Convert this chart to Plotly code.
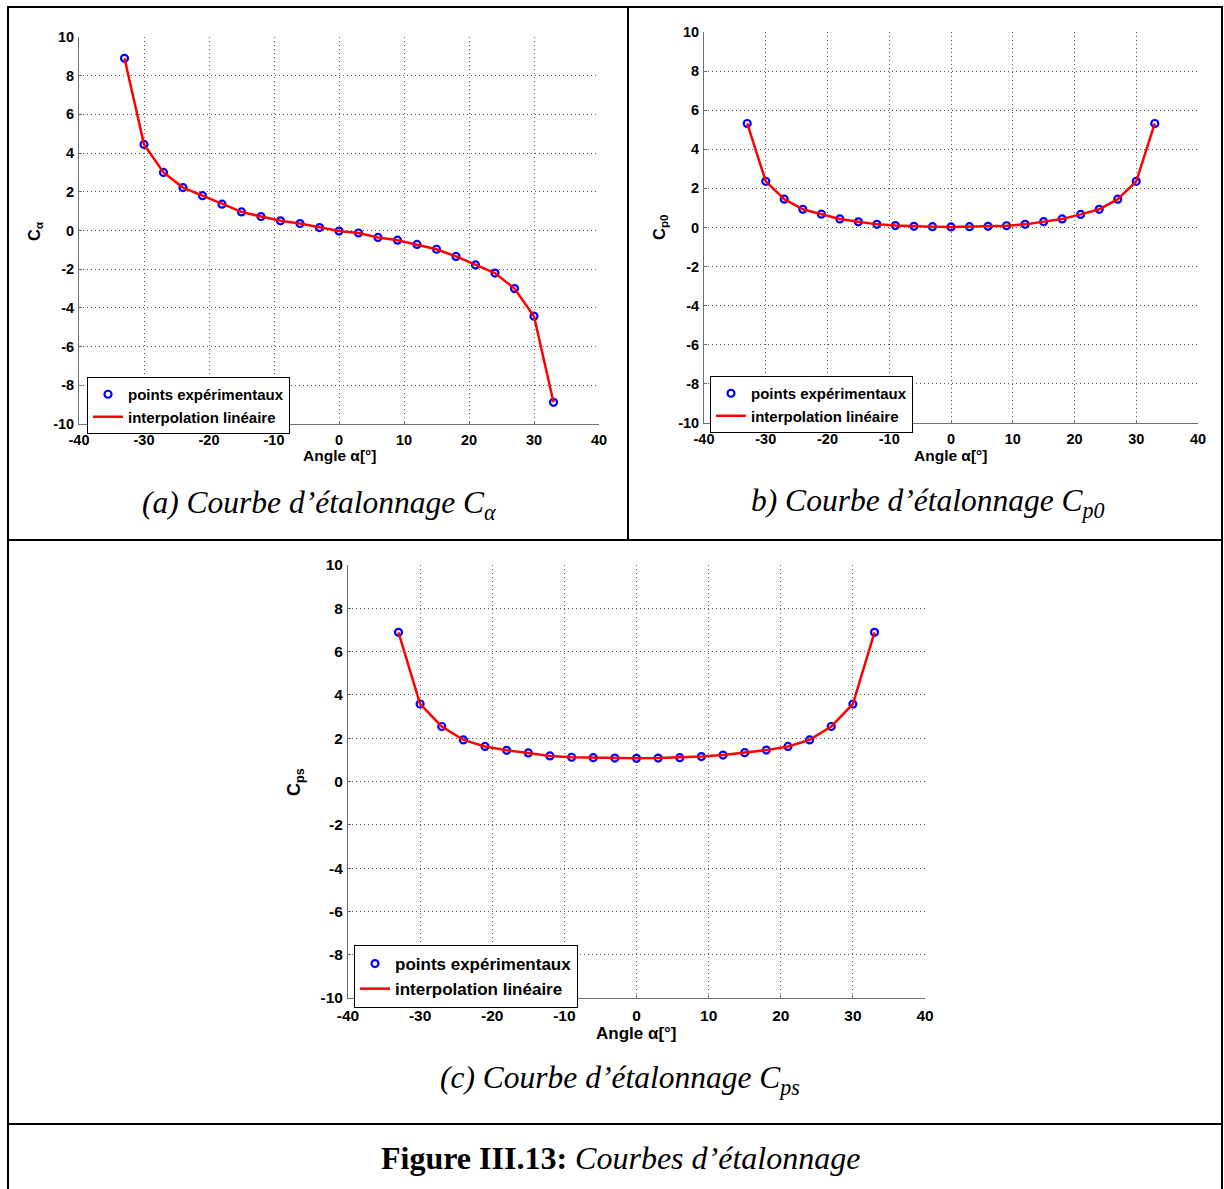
import plotly.graph_objects as go

W, H = 1224, 1189

angles = [-33, -30, -27, -24, -21, -18, -15, -12, -9, -6, -3, 0, 3, 6, 9, 12, 15, 18, 21, 24, 27, 30, 33]
c_alpha = [8.9, 4.45, 3.0, 2.22, 1.8, 1.36, 0.96, 0.72, 0.5, 0.36, 0.15, -0.03, -0.13, -0.36, -0.5,
           -0.72, -0.97, -1.34, -1.78, -2.2, -3.0, -4.43, -8.88]
c_p0 = [5.32, 2.36, 1.45, 0.93, 0.68, 0.44, 0.29, 0.16, 0.1, 0.06, 0.04, 0.03, 0.04, 0.06, 0.09,
        0.16, 0.3, 0.44, 0.67, 0.93, 1.45, 2.36, 5.32]
c_ps = [6.89, 3.58, 2.54, 1.92, 1.62, 1.44, 1.32, 1.18, 1.12, 1.1, 1.08, 1.07, 1.08, 1.1, 1.15,
        1.22, 1.33, 1.45, 1.62, 1.92, 2.54, 3.58, 6.89]

x_ticks = [-40, -30, -20, -10, 0, 10, 20, 30, 40]
x_ticktext = ["-40", "-30", "-20", "-10", "0", "10", "20", "30", "40"]
y_ticks = [-10, -8, -6, -4, -2, 0, 2, 4, 6, 8, 10]
y_ticktext = ["-10", "-8", "-6", "-4", "-2", "0", "2", "4", "6", "8", "10"]

legend_names = ["points expérimentaux", "interpolation linéaire"]
y_titles = ["C<sub>α</sub>", "C<sub>p0</sub>", "C<sub>ps</sub>"]
x_title = "Angle α[°]"
captions = ["<i>(a) Courbe d’étalonnage C<sub>α</sub></i>",
            "<i>b) Courbe d’étalonnage C<sub>p0</sub></i>",
            "<i>(c) Courbe d’étalonnage C<sub>ps</sub></i>"]
fig_caption = "<b>Figure III.13:</b> <i>Courbes d’étalonnage</i>"


def px(x):
    return x / W


def py(y):
    return 1 - y / H


# panel geometry in pixels: (left, right, top, bottom)
panels = [
    dict(box=(79, 599, 37, 424), series=c_alpha, fs=14.5, lfs=15, tfs=15.5,
         legend=(87, 377), ytitle=(35, 232), xtitle=(339, 455), cap=(319, 505)),
    dict(box=(704, 1198, 32, 423), series=c_p0, fs=14.5, lfs=15, tfs=15.5,
         legend=(710, 376), ytitle=(660, 228), xtitle=(950, 455), cap=(928, 503)),
    dict(box=(348, 925, 565, 998), series=c_ps, fs=15.5, lfs=17, tfs=17,
         legend=(354, 945), ytitle=(295, 782), xtitle=(636, 1033), cap=(620, 1080)),
]

fig = go.Figure()
annotations = []
layout_upd = {}

for i, p in enumerate(panels):
    k = "" if i == 0 else str(i + 1)
    xa, ya, lg = "x" + k, "y" + k, "legend" + k
    l, r, t, b = p["box"]
    fig.add_trace(go.Scatter(
        x=angles, y=p["series"], mode="markers", name=legend_names[0],
        marker=dict(symbol="circle-open", size=7, color="#0000ff", line=dict(width=2.2, color="#0000ff")),
        xaxis=xa, yaxis=ya, legend=lg))
    fig.add_trace(go.Scatter(
        x=angles, y=p["series"], mode="lines", name=legend_names[1],
        line=dict(color="#ff0000", width=2.5),
        xaxis=xa, yaxis=ya, legend=lg))
    tickfont = dict(family="Liberation Sans", size=p["fs"], color="black", weight="bold")
    common = dict(showgrid=True, gridcolor="#555555", griddash="1px,3px", gridwidth=1,
                  showline=True, linecolor="#707070", linewidth=1, mirror=False,
                  ticks="inside", ticklen=3, tickcolor="#707070",
                  zeroline=False, tickfont=tickfont, fixedrange=True)
    layout_upd["xaxis" + k] = dict(domain=[px(l), px(r)], range=[-40, 40],
                                   tickvals=x_ticks, ticktext=x_ticktext,
                                   ticklabelstandoff=3,
                                   anchor=ya, **common)
    layout_upd["yaxis" + k] = dict(domain=[py(b), py(t)], range=[-10, 10],
                                   tickvals=y_ticks, ticktext=y_ticktext,
                                   ticklabelstandoff=1,
                                   anchor=xa, **common)
    lx, ly = p["legend"]
    layout_upd[lg] = dict(x=px(lx), y=py(ly), xanchor="left", yanchor="top",
                          xref="paper", yref="paper",
                          bgcolor="white", bordercolor="black", borderwidth=1,
                          font=dict(family="Liberation Sans", size=p["lfs"], color="black", weight="bold"),
                          tracegroupgap=0, itemwidth=30)
    tx, ty = p["ytitle"]
    annotations.append(dict(x=px(tx), y=py(ty), xref="paper", yref="paper", text="<b>" + y_titles[i] + "</b>",
                            textangle=-90, showarrow=False, xanchor="center", yanchor="middle",
                            font=dict(family="Liberation Sans", size=p["tfs"] + 1, color="black")))
    tx, ty = p["xtitle"]
    annotations.append(dict(x=px(tx), y=py(ty), xref="paper", yref="paper", text="<b>" + x_title + "</b>",
                            showarrow=False, xanchor="center", yanchor="middle",
                            font=dict(family="Liberation Sans", size=p["tfs"], color="black")))
    tx, ty = p["cap"]
    annotations.append(dict(x=px(tx), y=py(ty), xref="paper", yref="paper", text=captions[i],
                            showarrow=False, xanchor="center", yanchor="middle",
                            font=dict(family="Liberation Serif", size=31.5, color="black")))

annotations.append(dict(x=px(620), y=py(1158), xref="paper", yref="paper", text=fig_caption,
                        showarrow=False, xanchor="center", yanchor="middle",
                        font=dict(family="Liberation Serif", size=32, color="black")))

line_style = dict(color="black", width=2)
shapes = [
    dict(type="rect", xref="paper", yref="paper", x0=px(8), x1=px(1222), y0=py(1200), y1=py(7), line=line_style),
    dict(type="line", xref="paper", yref="paper", x0=px(628), x1=px(628), y0=py(540), y1=py(7), line=line_style),
    dict(type="line", xref="paper", yref="paper", x0=px(8), x1=px(1222), y0=py(540), y1=py(540), line=line_style),
    dict(type="line", xref="paper", yref="paper", x0=px(8), x1=px(1222), y0=py(1124), y1=py(1124), line=line_style),
]

fig.update_layout(
    width=W, height=H, margin=dict(l=0, r=0, t=0, b=0, pad=0, autoexpand=False),
    paper_bgcolor="white", plot_bgcolor="white",
    annotations=annotations, shapes=shapes, **layout_upd,
)

fig.write_html("out.html", config={"displayModeBar": False},
               post_script="document.body.style.margin='0';")
